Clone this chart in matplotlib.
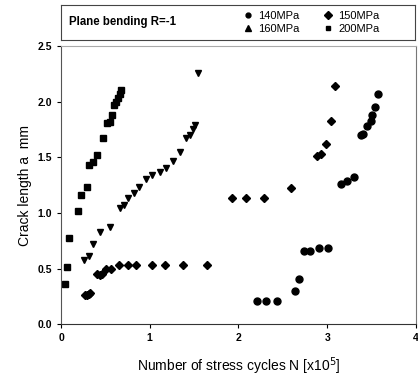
import matplotlib.pyplot as plt
from matplotlib.lines import Line2D

plt.rcParams['font.family'] = ['Liberation Sans', 'DejaVu Sans']

# 140 MPa (circles)
n_140 = [2.21, 2.31, 2.43, 2.64, 2.68, 2.74, 2.81, 2.91, 3.01, 3.16, 3.22, 3.30,
         3.38, 3.40, 3.45, 3.49, 3.50, 3.54, 3.57]
a_140 = [0.21, 0.21, 0.21, 0.30, 0.41, 0.66, 0.66, 0.68, 0.68, 1.26, 1.29, 1.32,
         1.70, 1.71, 1.78, 1.83, 1.88, 1.95, 2.07]

# 150 MPa (diamonds)
n_150 = [0.27, 0.29, 0.31, 0.33, 0.41, 0.44, 0.46, 0.51, 0.56, 0.65, 0.75, 0.85,
         1.03, 1.17, 1.38, 1.64, 1.93, 2.09, 2.29, 2.59, 2.89, 2.93, 2.99, 3.04, 3.09]
a_150 = [0.26, 0.26, 0.27, 0.28, 0.45, 0.44, 0.45, 0.50, 0.50, 0.53, 0.53, 0.53,
         0.53, 0.53, 0.53, 0.53, 1.13, 1.13, 1.13, 1.22, 1.51, 1.53, 1.62, 1.83, 2.14]

# 160 MPa (down triangles)
n_160 = [0.26, 0.31, 0.36, 0.44, 0.55, 0.67, 0.71, 0.76, 0.82, 0.88, 0.96, 1.03,
         1.11, 1.18, 1.26, 1.34, 1.41, 1.45, 1.49, 1.51, 1.54]
a_160 = [0.58, 0.61, 0.72, 0.83, 0.87, 1.04, 1.07, 1.13, 1.18, 1.23, 1.30, 1.34,
         1.37, 1.40, 1.47, 1.55, 1.67, 1.70, 1.75, 1.79, 2.26]

# 200 MPa (squares)
n_200 = [0.05, 0.07, 0.09, 0.19, 0.23, 0.29, 0.32, 0.36, 0.41, 0.47, 0.52, 0.55,
         0.58, 0.60, 0.62, 0.64, 0.66, 0.68]
a_200 = [0.36, 0.51, 0.77, 1.02, 1.16, 1.23, 1.43, 1.46, 1.52, 1.67, 1.81, 1.82,
         1.88, 1.97, 2.00, 2.03, 2.07, 2.10]

fig = plt.figure(figsize=(4.18, 3.8), dpi=100)
ax = fig.add_axes([0.146, 0.147, 0.849, 0.732])

ax.plot(n_140, a_140, 'o', color='black', ms=5, clip_on=False)
ax.plot(n_150, a_150, 'D', color='black', ms=4.5, clip_on=False)
ax.plot(n_160, a_160, 'v', color='black', ms=5, clip_on=False)
ax.plot(n_200, a_200, 's', color='black', ms=4.5, clip_on=False)

ax.set_xlim(0, 4)
ax.set_ylim(0, 2.5)
ax.set_xticks([0, 1, 2, 3, 4])
ax.set_yticks([0, 0.5, 1.0, 1.5, 2.0, 2.5])
ax.set_yticklabels(['0.0', '0.5', '1.0', '1.5', '2.0', '2.5'])
ax.tick_params(direction='out', length=3, labelsize=7.5, width=0.8)
for lab in ax.get_xticklabels() + ax.get_yticklabels():
    lab.set_fontweight('bold')

ax.spines['left'].set_color('#555555')
ax.spines['bottom'].set_color('#333333')
ax.spines['top'].set_color('#aaaaaa')
ax.spines['right'].set_color('#777777')

ax.set_ylabel('Crack length a  mm', fontsize=10)
ax.set_xlabel('Number of stress cycles N [x10$^{5}$]', fontsize=10, labelpad=9)

# legend box on top
lax = fig.add_axes([0.146, 0.895, 0.847, 0.092])
lax.set_xticks([])
lax.set_yticks([])
for s in lax.spines.values():
    s.set_color('#444444')
    s.set_linewidth(0.8)
lax.text(0.023, 0.5, 'Plane bending R=-1', fontsize=8.3, fontweight='bold',
         va='center', transform=lax.transAxes)
handles = [Line2D([], [], marker='o', ls='', color='black', ms=3.5),
           Line2D([], [], marker='^', ls='', color='black', ms=4.5),
           Line2D([], [], marker='D', ls='', color='black', ms=4),
           Line2D([], [], marker='s', ls='', color='black', ms=3.5)]
labels = ['140MPa', '160MPa', '150MPa', '200MPa']
lax.legend(handles, labels, ncol=2, loc='center left', bbox_to_anchor=(0.5, 0.5),
           frameon=False, fontsize=8, handlelength=0.8, handletextpad=0.5,
           columnspacing=2.2, labelspacing=0.25, borderpad=0)

fig.savefig('out.png', dpi=100)
